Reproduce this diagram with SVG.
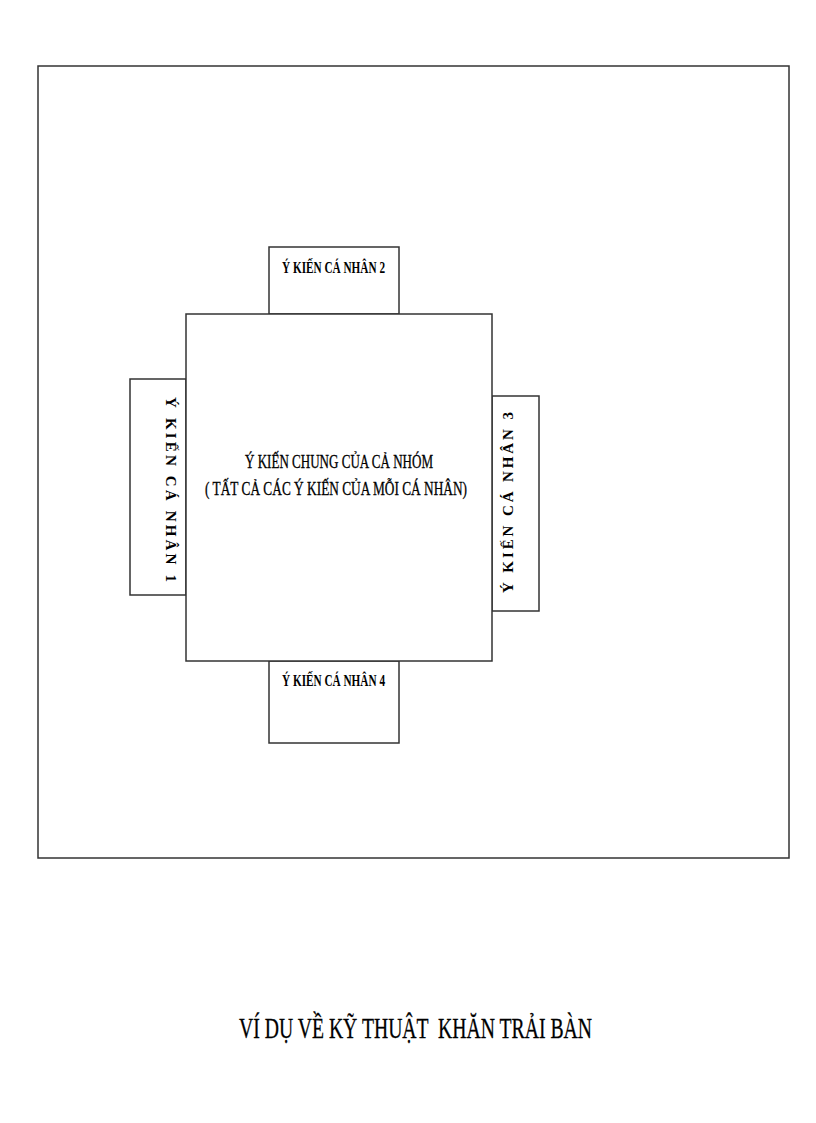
<svg xmlns="http://www.w3.org/2000/svg" width="816" height="1123" viewBox="0 0 816 1123">
<style>
  rect { fill: #ffffff; stroke: #333333; stroke-width: 1.5; }
  .lbl { font-family: "Liberation Serif", "Times New Roman", serif; font-weight: bold; font-size: 17px; fill: #000; }
  .vlbl { font-family: "Liberation Serif", "Times New Roman", serif; font-weight: bold; font-size: 15px; fill: #000; }
  .main { font-family: "Liberation Serif", "Times New Roman", serif; font-size: 19px; fill: #000; stroke: #000; stroke-width: 0.3; }
  .title { font-family: "Liberation Serif", "Times New Roman", serif; font-size: 30px; fill: #000; stroke: #000; stroke-width: 0.3; }
</style>
<rect width="816" height="1123" style="fill:#ffffff;stroke:none"/>
<g id="frame">
  <rect x="38" y="66" width="751" height="792"/>
</g>
<g id="connectors"></g>
<g id="box2">
  <rect x="269" y="247" width="130" height="67"/>
  <text class="lbl" x="282" y="273" textLength="103" lengthAdjust="spacingAndGlyphs">Ý KIẾN CÁ NHÂN 2</text>
</g>
<g id="box4">
  <rect x="269" y="661" width="130" height="82"/>
  <text class="lbl" x="282" y="686" textLength="103" lengthAdjust="spacingAndGlyphs">Ý KIẾN CÁ NHÂN 4</text>
</g>
<g id="box1">
  <rect x="130" y="379" width="56" height="216"/>
  <text class="vlbl" transform="translate(166,397) rotate(90)" x="0" y="0" textLength="185" lengthAdjust="spacing">Ý KIẾN CÁ NHÂN 1</text>
</g>
<g id="box3">
  <rect x="492" y="396" width="47" height="215"/>
  <text class="vlbl" transform="translate(513,593) rotate(-90)" x="0" y="0" textLength="181" lengthAdjust="spacing">Ý KIẾN CÁ NHÂN 3</text>
</g>
<g id="center">
  <rect x="186" y="314" width="306" height="347"/>
  <text class="main" x="245" y="468" textLength="188" lengthAdjust="spacingAndGlyphs">Ý KIẾN CHUNG CỦA CẢ NHÓM</text>
  <text class="main" x="205" y="495" textLength="262" lengthAdjust="spacingAndGlyphs">( TẤT CẢ CÁC Ý KIẾN CỦA MỖI CÁ NHÂN)</text>
</g>
<g id="title">
  <text class="title" x="239" y="1038" textLength="353" lengthAdjust="spacingAndGlyphs" xml:space="preserve">VÍ DỤ VỀ KỸ THUẬT  KHĂN TRẢI BÀN</text>
</g>
</svg>
